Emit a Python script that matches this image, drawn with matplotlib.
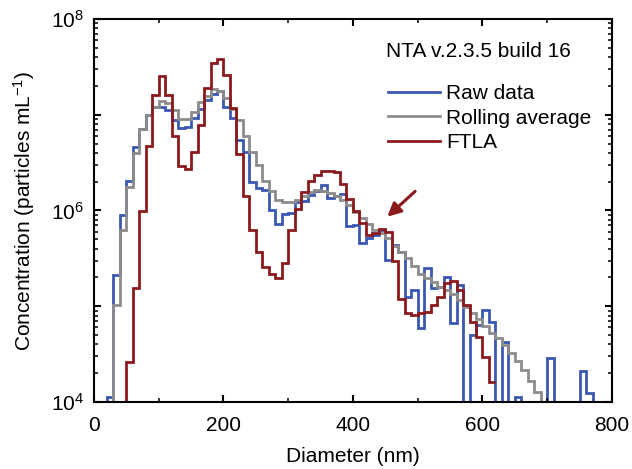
import numpy as np
import matplotlib.pyplot as plt
from matplotlib.ticker import LogLocator, MultipleLocator, FuncFormatter, NullFormatter

plt.rcParams['font.family'] = ['Liberation Sans', 'DejaVu Sans']
plt.rcParams['mathtext.fontset'] = 'custom'
plt.rcParams['mathtext.rm'] = 'Liberation Sans'
plt.rcParams['mathtext.it'] = 'Liberation Sans:italic'

# histogram bins are 10 nm wide, starting at 0 nm
bin_width = 10

# log10(concentration) per bin, None = empty bin
raw_log = [None, None, 4.05, 5.33, 5.95, 6.31, 6.66, 6.85, 7.00, 7.08,
           7.08, 7.05, 6.94, 6.86, 6.87, 6.97, 7.06, 7.15, 7.22, 7.25,
           7.08, 6.97, 6.74, 6.61, 6.30, 6.23, 6.21, 6.01, 5.86, 5.96,
           5.97, 6.09, 6.10, 6.16, 6.20, 6.27, 6.13, 6.15, 6.17, 5.84,
           5.85, 5.66, 5.71, 5.74, 5.80, 5.48, 5.64, 5.57, 5.10, 5.17,
           4.77, 5.40, 5.19, 5.20, 5.31, 4.82, 5.22, None, 4.70, 4.80,
           4.96, 4.84, None, 4.63, None, 4.05, None, None, None, None,
           4.46, None, None, None, None, 4.32, 4.09, None, None, None]

rolling_log = [None, None, None, 5.01, 5.80, 6.25, 6.60, 6.85, 7.00, 7.08,
               7.14, 7.12, 7.05, 6.96, 6.96, 7.03, 7.13, 7.20, 7.27, 7.25,
               7.17, 7.06, 6.95, 6.78, 6.61, 6.47, 6.31, 6.20, 6.11, 6.09,
               6.09, 6.11, 6.15, 6.19, 6.21, 6.20, 6.18, 6.15, 6.11, 6.06,
               5.98, 5.92, 5.86, 5.80, 5.77, 5.71, 5.63, 5.57, 5.50, 5.42,
               5.34, 5.29, 5.25, 5.20, 5.17, 5.13, 5.07, 4.99, 4.93, 4.87,
               4.79, 4.72, 4.67, 4.60, 4.51, 4.43, 4.33, 4.22, 4.10, None]

ftla_log = [None, None, None, None, None, 4.42, 5.19, 5.99, 6.67, 7.21,
            7.40, 7.21, 6.78, 6.46, 6.43, 6.61, 6.89, 7.28, 7.54, 7.58,
            7.42, 7.07, 6.59, 6.15, 5.80, 5.57, 5.41, 5.34, 5.30, 5.45,
            5.80, 6.02, 6.19, 6.31, 6.37, 6.41, 6.41, 6.40, 6.28, 6.12,
            5.99, 5.87, 5.74, 5.76, 5.81, 5.78, 5.47, 5.08, 4.93, 4.91,
            4.93, 4.94, 5.01, 5.10, 5.24, 5.26, 5.17, 5.01, 4.84, 4.68,
            4.47, 4.21]

series = [(raw_log, '#3a58b2', 'Raw data'),
          (rolling_log, '#8c8c8c', 'Rolling average'),
          (ftla_log, '#8b1a1e', 'FTLA')]


def to_conc(logs):
    return np.array([0.0 if v is None else 10 ** v for v in logs])


fig = plt.figure(figsize=(6.32, 4.69), dpi=100)
ax = fig.add_axes([0.1487, 0.1429, 0.8196, 0.8166])
ax.set_yscale('log')

for logs, color, label in series:
    edges = np.arange(len(logs) + 1) * bin_width
    ax.stairs(to_conc(logs), edges, baseline=None, color=color, lw=2.0, label=label)

ax.set_xlim(0, 800)
ax.set_ylim(1e4, 1e8)

# arrow pointing at the shoulder
ax.annotate('', xy=(453, 10 ** 5.935), xytext=(496, 10 ** 6.2),
            arrowprops=dict(arrowstyle='-|>', color='#8b1a1e', lw=2.2,
                            mutation_scale=20, shrinkA=0, shrinkB=0))

# ticks
ax.xaxis.set_major_locator(MultipleLocator(200))
ax.xaxis.set_minor_locator(MultipleLocator(100))
ax.yaxis.set_major_locator(LogLocator(base=10, numticks=10))
ax.yaxis.set_minor_locator(LogLocator(base=10, subs=np.arange(2, 10), numticks=20))
ax.yaxis.set_minor_formatter(NullFormatter())


def ylab(v, pos):
    e = int(round(np.log10(v)))
    return r'$\mathdefault{10^{%d}}$' % e if e % 2 == 0 else ''


ax.yaxis.set_major_formatter(FuncFormatter(ylab))
ax.tick_params(which='both', direction='in', top=True, right=True, labelsize=15)
ax.tick_params(which='major', length=5, width=1.5, pad=7)
ax.tick_params(axis='x', which='major', pad=10)
ax.tick_params(which='minor', length=3, width=1.1)
for s in ax.spines.values():
    s.set_linewidth(1.5)

ax.set_xlabel('Diameter (nm)', fontsize=15, labelpad=9)
ax.set_ylabel(r'Concentration (particles mL$^{-1}$)', fontsize=15, labelpad=10)

# legend with version note above it
ax.text(0.5636, 0.914, 'NTA v.2.3.5 build 16', transform=ax.transAxes,
        fontsize=15, va='center', ha='left')
ax.legend(loc='upper left', bbox_to_anchor=(0.5676, 0.83), frameon=False,
          fontsize=15, handlelength=2.5, handletextpad=0.3, labelspacing=0.27,
          borderpad=0, borderaxespad=0)

fig.savefig('out.png', dpi=100)
